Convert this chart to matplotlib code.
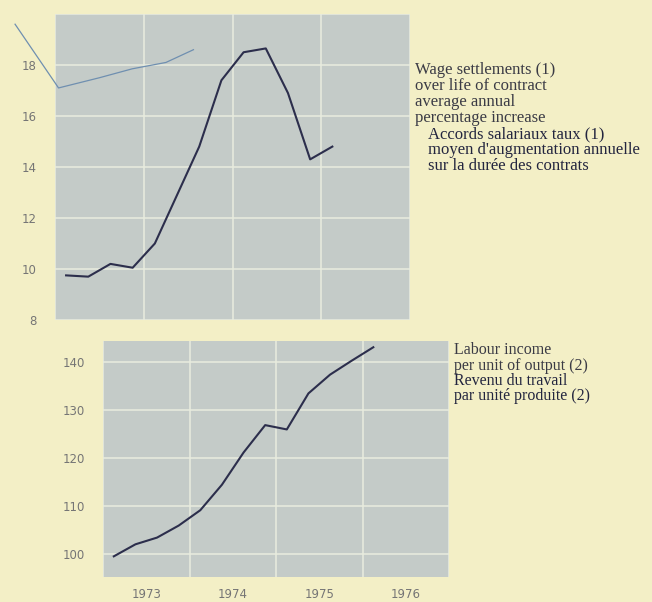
import matplotlib.pyplot as plt

# ==========================================
# DATA (quarterly)
# ==========================================
quarters = ['1973Q1', '1973Q2', '1973Q3', '1973Q4',
            '1974Q1', '1974Q2', '1974Q3', '1974Q4',
            '1975Q1', '1975Q2', '1975Q3', '1975Q4', '1976Q1']
wage_settlements = [9.75, 9.7, 10.2, 10.05, 11.0, 12.9, 14.8,
                    17.4, 18.5, 18.65, 16.9, 14.3, 14.8]
labour_income = [99.5, 102.0, 103.4, 105.9, 109.1, 114.4, 121.1,
                 126.8, 125.9, 133.4, 137.3, 140.2, 143.0]

# thin blue stroke bleeding in at the top left
stray_x = [1972.55, 1973.04, 1973.5, 1973.87, 1974.25, 1974.56]
stray_y = [19.6, 17.1, 17.5, 17.85, 18.1, 18.6]

years = [1973, 1974, 1975, 1976]
wage_ticks = [8, 10, 12, 14, 16, 18, 20]
wage_labels = ['8', '10', '12', '14', '16', '18', '']
labour_ticks = [100, 110, 120, 130, 140]

wage_text_en = ['Wage settlements (1)', 'over life of contract',
                'average annual', 'percentage increase']
wage_text_fr = ['Accords salariaux taux (1)',
                "moyen d'augmentation annuelle",
                'sur la durée des contrats']
labour_text = ['Labour income', 'per unit of output (2)',
               'Revenu du travail', 'par unité produite (2)']

# ==========================================
# STYLE
# ==========================================
page = '#f3efc6'
panel = '#c4cbc8'
grid_col = '#e9ecdf'
ink = '#2c2e4c'
tick_col = '#757575'

x_q = [int(q[:4]) + (int(q[-1]) - 0.5) / 4 for q in quarters]
bounds = years + [years[-1] + 1]
mids = [y + 0.5 for y in years]

W, H = 652, 602
fig = plt.figure(figsize=(W / 100, H / 100), dpi=100, facecolor=page)

ax1 = fig.add_axes([55 / W, 1 - 320 / H, 355 / W, 306 / H])
ax2 = fig.add_axes([103 / W, 1 - 577 / H, 346 / W, 236 / H])

for ax in (ax1, ax2):
    ax.set_facecolor(panel)
    for s in ax.spines.values():
        s.set_visible(False)
    ax.set_xlim(bounds[0], bounds[-1])
    ax.set_xticks(bounds)
    ax.set_xticklabels([])
    ax.grid(True, color=grid_col, linewidth=1.1)
    ax.set_axisbelow(True)
    ax.tick_params(length=0, labelsize=8.5, labelcolor=tick_col)

# --- top panel: wage settlements ---
ax1.set_ylim(8, 20)
ax1.set_yticks(wage_ticks)
ax1.set_yticklabels(wage_labels)
ax1.tick_params(axis='y', pad=13)
ax1.plot(x_q, wage_settlements, color=ink, linewidth=1.5)
ax1.plot(stray_x, stray_y, color='#6f8fb0', linewidth=0.9, clip_on=False)

# --- bottom panel: labour income ---
ax2.set_ylim(95.2, 144.3)
ax2.set_yticks(labour_ticks)
ax2.tick_params(axis='y', pad=13)
ax2.set_xticks(mids, minor=True)
ax2.set_xticklabels([str(y) for y in years], minor=True)
ax2.tick_params(axis='x', which='minor', length=0, pad=8,
                labelsize=8.5, labelcolor=tick_col)
ax2.plot(x_q, labour_income, color=ink, linewidth=1.5)

# ==========================================
# SIDE NOTES
# ==========================================
step = 16
for i, line in enumerate(wage_text_en):
    fig.text(415 / W, 1 - (70 + i * step) / H, line, family='Liberation Serif',
             fontsize=12, color='#3b3b45', va='center')
for i, line in enumerate(wage_text_fr):
    fig.text(428 / W, 1 - (134 + i * step) / H, line, family='Liberation Serif',
             fontsize=12, color='#23253f', va='center')
for i, line in enumerate(labour_text):
    color = '#3b3b45' if i < 2 else '#23253f'
    fig.text(454 / W, 1 - (350 + i * 15.5) / H, line, family='Liberation Serif',
             fontsize=11.5, color=color, va='center')

fig.savefig('out.png', dpi=100, facecolor=page)
